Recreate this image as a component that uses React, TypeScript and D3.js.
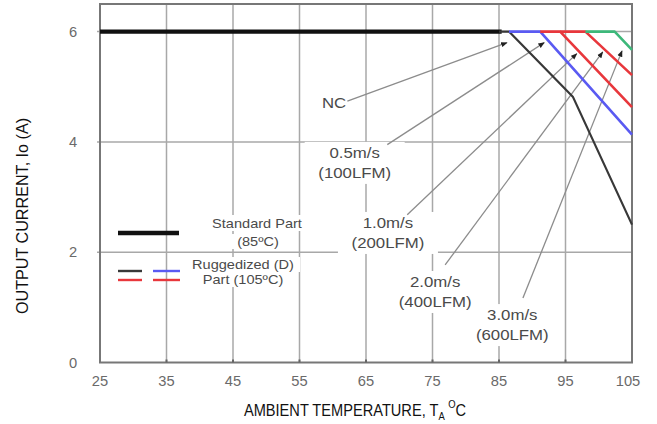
import React from 'react';
import * as d3 from 'd3';

// Axis ticks
const tempTicks = [25, 35, 45, 55, 65, 75, 85, 95, 105];
const currentTicks = [0, 2, 4, 6];

// Derating curves: ambient temperature (°C) vs. output current (A)
const standardTemp = [25, 85.4];
const standardCurrent = [6, 6];
const ncTemp = [85, 86.5, 96.1, 105];
const ncCurrent = [6, 6, 4.82, 2.5];
const air05Temp = [86.5, 91.2, 105];
const air05Current = [6, 6, 4.13];
const air10Temp = [91.2, 94.2, 105];
const air10Current = [6, 6, 4.63];
const air20Temp = [94.2, 98.0, 105];
const air20Current = [6, 6, 5.21];
const air30Temp = [98.0, 102.4, 105];
const air30Current = [6, 6, 5.67];

// Airflow callouts: text lines, label centre, leader start and arrow tip (°C, A)
const calloutLines = [['NC'], ['0.5m/s', '(100LFM)'], ['1.0m/s', '(200LFM)'], ['2.0m/s', '(400LFM)'], ['3.0m/s', '(600LFM)']];
const calloutAt = [[60.2, 4.71], [63.3, 3.8], [68.3, 2.53], [75.4, 1.46], [87.0, 0.86]];
const leaderFrom = [[62.2, 4.74], [68.2, 3.95], [71.2, 2.68], [76.9, 1.77], [88.6, 1.17]];
const leaderTo = [[86.2, 5.8], [91.8, 5.8], [96.7, 5.6], [100.6, 5.63], [103.5, 5.65]];

const W = 657;
const H = 424;
const M = { left: 100, right: 632, top: 4, bottom: 362.5 };

const BLUE = '#5a5af2';
const RED = '#e8373c';
const GREEN = '#3db87a';
const DARK = '#383838';

export default function App() {
  const x = d3.scaleLinear().domain([25, 105]).range([M.left, M.right]);
  const y = d3.scaleLinear().domain([0, 6.5]).range([M.bottom, M.top]);
  const line = (ts: number[], is: number[]) =>
    d3.line<number>().x((d) => x(ts[d])).y((d) => y(is[d]))(d3.range(ts.length)) || '';

  const labelFont = "'Liberation Sans', Arial, sans-serif";
  const tickColor = '#6a6a6a';
  const textColor = '#4a4a4a';

  const curves = [
    { t: ncTemp, i: ncCurrent, c: DARK, w: 2.2 },
    { t: air05Temp, i: air05Current, c: BLUE, w: 2.6 },
    { t: air10Temp, i: air10Current, c: RED, w: 2.6 },
    { t: air20Temp, i: air20Current, c: RED, w: 2.6 },
    { t: air30Temp, i: air30Current, c: GREEN, w: 2.6 },
  ];

  return (
    <svg width={W} height={H} style={{ position: 'absolute', left: 0, top: 0, background: '#fff' }}>
      <defs>
        <marker id="tip" viewBox="0 0 10 10" refX="9" refY="5" markerWidth="5" markerHeight="5" orient="auto">
          <path d="M0,1 L10,5 L0,9 z" fill="#222" />
        </marker>
      </defs>

      {/* grid */}
      {tempTicks.slice(1, -1).map((t) => (
        <line key={'vx' + t} x1={x(t)} x2={x(t)} y1={M.top} y2={M.bottom} stroke="#a8a8a8" strokeWidth={1.5} />
      ))}
      {currentTicks.slice(1).map((v) => (
        <line key={'hy' + v} x1={M.left - 3} x2={M.right} y1={y(v)} y2={y(v)} stroke="#a8a8a8" strokeWidth={1.5} />
      ))}

      {/* white panels behind callout text */}
      {calloutLines.map((ls, k) => {
        const cx = x(calloutAt[k][0]);
        const cy = y(calloutAt[k][1]);
        const hw = ls.length > 1 ? 50 : 16;
        const top = cy - 11;
        const h = ls.length > 1 ? 42 : 20;
        return <rect key={'bg' + k} x={cx - hw} y={top} width={hw * 2} height={h} fill="#fff" />;
      })}
      {/* white panels behind legend text */}
      <rect x={203} y={215} width={108} height={16} fill="#fff" />
      <rect x={228} y={234} width={60} height={15} fill="#fff" />
      <rect x={186} y={257} width={114} height={15} fill="#fff" />
      <rect x={197} y={272} width={92} height={15} fill="#fff" />

      {/* frame */}
      <rect x={M.left} y={M.top} width={M.right - M.left} height={M.bottom - M.top} fill="none" stroke="#777" strokeWidth={2} />

      {/* bottom tick dots */}
      {tempTicks.slice(1, -1).map((t) => (
        <line key={'tk' + t} x1={x(t)} x2={x(t)} y1={M.bottom - 3} y2={M.bottom} stroke="#666" strokeWidth={2} />
      ))}

      {/* leaders */}
      {leaderFrom.map((p, k) => (
        <line
          key={'ld' + k}
          x1={x(p[0])}
          y1={y(p[1])}
          x2={x(leaderTo[k][0])}
          y2={y(leaderTo[k][1])}
          stroke="#8c8c8c"
          strokeWidth={1.3}
          markerEnd="url(#tip)"
        />
      ))}

      {/* curves */}
      <path d={line(standardTemp, standardCurrent)} fill="none" stroke="#111" strokeWidth={4.2} />
      {curves.map((c, k) => (
        <path key={'cv' + k} d={line(c.t, c.i)} fill="none" stroke={c.c} strokeWidth={c.w} strokeLinejoin="round" />
      ))}

      {/* callout labels */}
      {calloutLines.map((ls, k) => {
        const cx = x(calloutAt[k][0]);
        const cy = y(calloutAt[k][1]);
        return (
          <g key={'lb' + k} transform={`translate(${cx},${cy}) scale(1.2,1)`} fontFamily={labelFont} fontSize={14} fill={textColor} textAnchor="middle">
            {ls.map((s, j) => (
              <text key={j} x={0} y={j * 20 + 5}>
                {s}
              </text>
            ))}
          </g>
        );
      })}

      {/* legend */}
      <line x1={118} x2={179} y1={233} y2={233} stroke="#111" strokeWidth={4.5} />
      <line x1={118} x2={142} y1={271} y2={271} stroke={DARK} strokeWidth={2.4} />
      <line x1={153} x2={180} y1={271} y2={271} stroke={BLUE} strokeWidth={2.4} />
      <line x1={118} x2={142} y1={280} y2={280} stroke={RED} strokeWidth={2.4} />
      <line x1={153} x2={180} y1={280} y2={280} stroke={RED} strokeWidth={2.4} />
      <g fontFamily={labelFont} fontSize={13} fill={textColor} textAnchor="middle">
        <text transform="translate(257,228) scale(1.12,1)">Standard Part</text>
        <text transform="translate(258,246) scale(1.12,1)">(85ºC)</text>
        <text transform="translate(243,269) scale(1.12,1)">Ruggedized (D)</text>
        <text transform="translate(243,284) scale(1.12,1)">Part (105ºC)</text>
      </g>

      {/* tick labels */}
      <g fontFamily={labelFont} fontSize={14} fill={tickColor} textAnchor="middle">
        {tempTicks.map((t) => (
          <text key={'xt' + t} transform={`translate(${Math.min(x(t), 628)},${386}) scale(1.05,1)`}>
            {t}
          </text>
        ))}
        {currentTicks.map((v) => (
          <text key={'yt' + v} transform={`translate(73,${y(v) + 5}) scale(1.05,1)`}>
            {v}
          </text>
        ))}
      </g>

      {/* axis titles */}
      <text
        transform="translate(355,416) scale(0.86,1)"
        fontFamily={labelFont}
        fontSize={17}
        fill="#111"
        textAnchor="middle"
      >
        AMBIENT TEMPERATURE, T
        <tspan fontSize={11} dy={4}>A</tspan>
        <tspan fontSize={11} dy={-12} dx={4}>O</tspan>
        <tspan dy={8}>C</tspan>
      </text>
      <text
        transform="translate(28,216) rotate(-90) scale(0.95,1)"
        fontFamily={labelFont}
        fontSize={17}
        fill="#111"
        textAnchor="middle"
      >
        OUTPUT CURRENT, Io (A)
      </text>
    </svg>
  );
}
